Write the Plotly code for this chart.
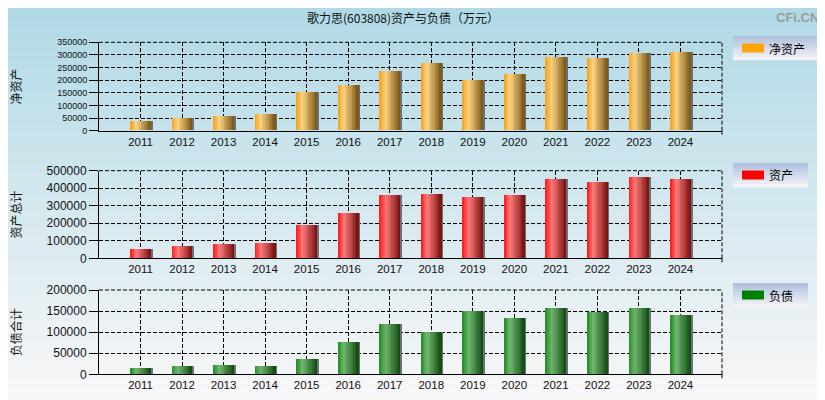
import plotly.graph_objects as go

# ---------------- data ----------------
years = ['2011', '2012', '2013', '2014', '2015', '2016', '2017',
         '2018', '2019', '2020', '2021', '2022', '2023', '2024']
net_assets = [38400, 50300, 58200, 66100, 153000, 181000, 236000,
              268000, 198000, 224500, 291800, 287800, 307600, 311600]
total_assets = [53200, 70300, 81700, 87400, 190000, 258400, 361000,
                366700, 349600, 361000, 452200, 435100, 463600, 452200]
total_liab = [15000, 19800, 22100, 19800, 36400, 76700, 119400,
              100400, 150200, 133600, 157300, 148600, 157300, 140700]

title_text = '歌力思(603808)资产与负债（万元）'
axis_titles = ['净资产', '资产总计', '负债合计']
legend_names = ['净资产', '资产', '负债']

# page body has an 8px margin, so the figure starts at (8, 8)
OFF = 8
W, H = 825 - OFF, 400 - OFF


def px(x):
    return (x - OFF) / W


def py(y):
    return 1 - (y - OFF) / H


def lerp(a, b, t):
    return tuple(int(round(a[i] + (b[i] - a[i]) * t)) for i in range(3))


def grad(stops, t):
    for (p0, c0), (p1, c1) in zip(stops, stops[1:]):
        if p0 <= t <= p1:
            return lerp(c0, c1, (t - p0) / (p1 - p0))
    return stops[-1][1]


def rgb(c):
    return 'rgb(%d,%d,%d)' % c


panels = [
    dict(vals=net_assets, ymax=350000, dtick=50000, tfs=9,
         top=42.3, bot=130.7,
         stops=[(0, (245, 160, 25)), (0.3, (252, 210, 130)), (1, (118, 84, 18))],
         swatch='rgb(255,165,0)', box=(733, 820, 36, 60)),
    dict(vals=total_assets, ymax=500000, dtick=100000, tfs=12,
         top=170.7, bot=258.3,
         stops=[(0, (255, 20, 20)), (0.3, (255, 122, 122)), (1, (118, 14, 14))],
         swatch='rgb(255,0,0)', box=(733, 808, 163, 187)),
    dict(vals=total_liab, ymax=200000, dtick=50000, tfs=12,
         top=290.0, bot=374.3,
         stops=[(0, (30, 140, 30)), (0.3, (112, 182, 112)), (1, (14, 72, 14))],
         swatch='rgb(0,128,0)', box=(733, 808, 283, 307)),
]

fig = go.Figure()
shapes = []
annotations = []

# background gradient
top_c = (176, 217, 230)
bot_c = (248, 247, 248)
NS = 60
for i in range(NS):
    c = lerp(top_c, bot_c, i / (NS - 1))
    shapes.append(dict(type='rect', xref='paper', yref='paper',
                       x0=-0.02, x1=1.02, y0=1 - (i + 1) / NS - 0.003, y1=1 - i / NS + 0.001,
                       fillcolor=rgb(c), line=dict(width=0), layer='below'))

x0p, x1p = px(99), px(722)
dash = '4px,2px'

for k, p in enumerate(panels):
    sfx = '' if k == 0 else str(k + 1)
    xa, ya = 'x' + sfx, 'y' + sfx
    # shadow
    fig.add_trace(go.Bar(x=years, y=p['vals'], xaxis=xa, yaxis=ya,
                         width=0.06, offset=0.23,
                         marker=dict(color='rgb(105,112,118)', line=dict(width=0)),
                         hoverinfo='skip', showlegend=False))
    n = 12
    step = 0.5 / n
    for i in range(n):
        c = grad(p['stops'], (i + 0.5) / n)
        w = step * 1.6 if i < n - 1 else step
        fig.add_trace(go.Bar(x=years, y=p['vals'], xaxis=xa, yaxis=ya,
                             width=w, offset=-0.25 + i * step,
                             marker=dict(color=rgb(c), line=dict(width=0)),
                             hoverinfo='skip' if i else 'x+y',
                             name=legend_names[k], showlegend=False))
    dom = [py(p['bot']), py(p['top'])]
    fig.update_layout(**{
        'xaxis' + sfx: dict(domain=[x0p, x1p], anchor=ya, type='category',
                            range=[-1, 14], showgrid=True, gridcolor='black',
                            griddash=dash, gridwidth=1, showline=True,
                            linecolor='black', linewidth=1, ticks='',
                            tickfont=dict(family='Liberation Sans', size=11.5, color='#111'),
                            automargin=False, fixedrange=True),
        'yaxis' + sfx: dict(domain=dom, anchor=xa, range=[0, p['ymax']],
                            dtick=p['dtick'], tick0=0, tickformat='d',
                            showgrid=True, gridcolor='black', griddash=dash,
                            gridwidth=1, showline=True, linecolor='black',
                            linewidth=1, zeroline=False, ticks='outside',
                            ticklen=9, tickcolor='black', tickwidth=1,
                            tickfont=dict(family='Liberation Sans', size=p['tfs'], color='#111'),
                            automargin=False, fixedrange=True),
    })
    # dashed right border + top border, small tick at right end of x axis
    shapes.append(dict(type='line', xref='paper', yref='paper',
                       x0=x1p, x1=x1p, y0=dom[0], y1=dom[1],
                       line=dict(color='black', width=1, dash=dash), layer='above'))
    shapes.append(dict(type='line', xref='paper', yref='paper',
                       x0=x0p, x1=x1p, y0=dom[1], y1=dom[1],
                       line=dict(color='black', width=1, dash=dash), layer='above'))
    shapes.append(dict(type='line', xref='paper', yref='paper',
                       x0=x1p, x1=x1p, y0=py(p['bot'] + 4), y1=dom[0],
                       line=dict(color='black', width=1), layer='above'))
    # axis title
    annotations.append(dict(text=axis_titles[k], xref='paper', yref='paper',
                            x=px(15), y=py((p['top'] + p['bot']) / 2),
                            textangle=-90, showarrow=False,
                            font=dict(family='Noto Sans CJK SC', size=12, color='#111'),
                            xanchor='center', yanchor='middle'))
    # legend box
    bx0, bx1, by0, by1 = p['box']
    nb = 8
    for j in range(nb):
        c = lerp((178, 194, 222), (242, 242, 247), j / (nb - 1))
        ya0 = by0 + (by1 - by0) * j / nb
        ya1 = by0 + (by1 - by0) * (j + 1) / nb
        shapes.append(dict(type='rect', xref='paper', yref='paper',
                           x0=px(bx0), x1=px(bx1), y0=py(ya1 + 0.3), y1=py(ya0),
                           fillcolor=rgb(c), line=dict(width=0), layer='above'))
    cy = (by0 + by1) / 2
    shapes.append(dict(type='rect', xref='paper', yref='paper',
                       x0=px(742), x1=px(764), y0=py(cy + 4.5), y1=py(cy - 4.5),
                       fillcolor=p['swatch'], line=dict(width=0), layer='above'))
    annotations.append(dict(text=legend_names[k], xref='paper', yref='paper',
                            x=px(767), y=py(cy), showarrow=False,
                            xanchor='left', yanchor='middle',
                            font=dict(family='Noto Sans CJK SC', size=12, color='#000')))

annotations.append(dict(text=title_text, xref='paper', yref='paper',
                        x=px(403), y=py(17), showarrow=False,
                        xanchor='center', yanchor='middle',
                        font=dict(family='Noto Sans CJK SC', size=12, color='#111')))
annotations.append(dict(text='<b>CFi.CN</b>', xref='paper', yref='paper',
                        x=px(821), y=py(8), showarrow=False,
                        xanchor='right', yanchor='top',
                        font=dict(family='Liberation Sans Narrow, Liberation Sans', size=13,
                                  color='#9a9a9a')))

fig.update_layout(width=W, height=H, margin=dict(l=0, r=0, t=0, b=0),
                  paper_bgcolor='rgb(210,230,238)', plot_bgcolor='rgba(0,0,0,0)',
                  barmode='overlay', bargap=0, showlegend=False,
                  shapes=shapes, annotations=annotations,
                  font=dict(family='Liberation Sans'))

fig.write_html('out.html', config={'displayModeBar': False})
